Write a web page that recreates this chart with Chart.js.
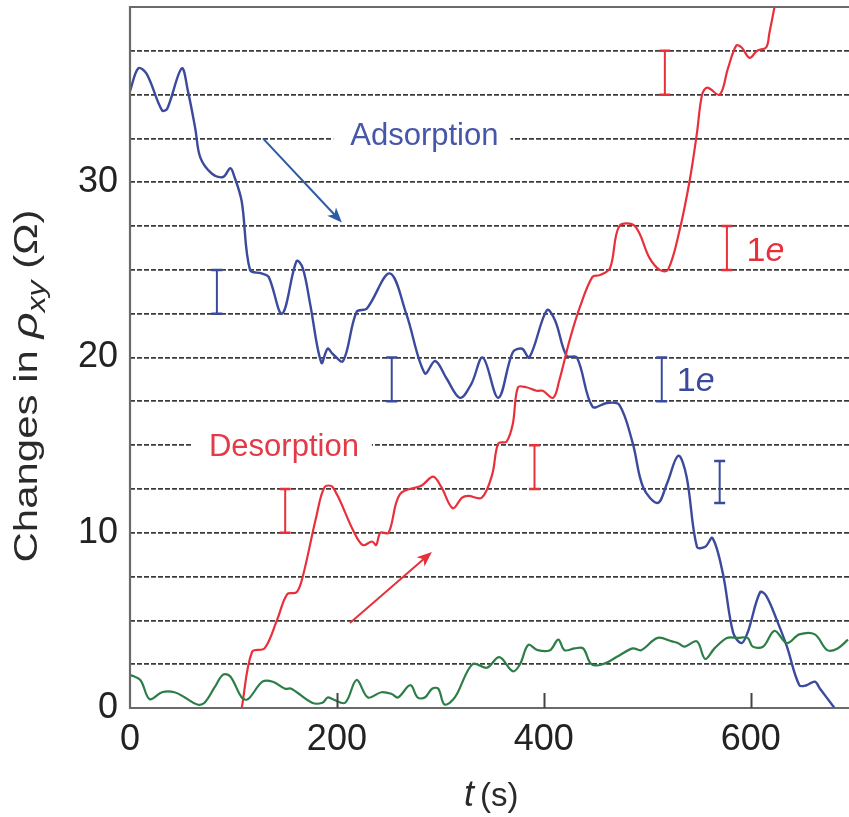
<!DOCTYPE html>
<html>
<head>
<meta charset="utf-8">
<script src="https://cdn.jsdelivr.net/npm/chart.js@4.4.1/dist/chart.umd.min.js"></script>
<style>
  html, body { margin: 0; padding: 0; background: #fff; }
  canvas { display: block; }
</style>
</head>
<body>
<canvas id="chart" width="849" height="817"></canvas>
<script>
// adsorption (blue) trace
const adsT = [0,8,16,31,36,50,56,63,68,79,90,97,101,108,116,127,134,147,161,167,174,185,191,196,206,219,229,251,267,285,295,306,319,330,341,356,370,379,386,403,411,422,432,447,461,473,486,496,510,519,530,538,548,556,563,573,583,591,597,609,615,626,635,647,654,662,667,681];
const adsR = [35.2,36.5,36.2,34.1,34.2,36.5,35.2,33.1,31.4,30.5,30.3,30.8,30.3,28.9,25.0,24.8,24.6,22.5,25.5,25.1,23.1,19.7,20.5,20.2,19.8,22.6,22.8,24.8,22.5,19.1,19.8,18.8,17.7,18.5,20.0,17.7,20.3,20.5,20.0,22.7,22.1,20.1,20.0,17.2,17.4,17.3,15.1,12.6,11.7,12.8,14.4,13.2,9.2,9.2,9.7,7.7,4.3,3.7,4.3,6.6,6.4,4.9,3.5,1.3,1.3,1.5,1.1,0];

// desorption (red) trace
const desT = [108,118,130,142,152,161,167,180,188,196,216,225,234,238,242,250,261,282,293,301,312,321,327,340,350,356,364,370,375,383,393,399,409,415,425,435,447,454,464,473,488,502,512,520,531,541,548,553,558,570,578,586,591,599,606,615,618,623];
const desR = [0,3.2,3.4,5.0,6.5,6.6,7.5,10.9,12.6,12.6,10.1,9.3,9.5,9.3,10.0,10.0,12.2,12.7,13.2,12.6,11.4,12.0,12.1,12.0,13.3,15.1,15.2,16.2,18.3,18.3,18.1,18.1,17.7,18.7,21.0,22.9,24.6,24.7,25.1,27.5,27.5,25.7,25.0,25.0,27.2,30.1,32.8,35.0,35.4,35.0,36.5,37.8,37.7,37.1,37.5,37.7,38.5,40.0];

// baseline (green) trace
const baseT = [0,10,19,31,43,53,65,72,82,90,97,108,114,128,138,150,156,176,186,191,196,208,219,230,243,253,259,271,278,285,292,298,304,314,331,345,357,370,377,385,394,406,414,420,430,438,446,457,473,486,494,510,524,530,536,548,556,565,577,587,597,602,612,623,635,647,662,674,684,694];
const baseR = [1.9,1.6,0.5,0.9,0.9,0.6,0.2,0.3,1.2,1.9,1.8,0.6,0.5,1.5,1.5,1.1,1.1,0.3,0.3,0.6,0.5,0.3,1.6,0.6,0.9,0.8,0.6,1.3,0.6,0.6,1.1,1.1,0.2,0.6,2.5,2.3,2.9,2.1,2.5,3.6,3.3,3.3,3.9,3.3,3.4,3.4,2.5,2.5,3.0,3.4,3.3,4.0,3.8,3.7,3.5,3.8,2.8,3.4,4.0,4.0,4.0,3.5,3.5,4.4,3.7,4.2,4.2,3.3,3.4,3.9];

// one-electron step markers
const blueBarT = [84, 253, 514, 570];
const blueBarLo = [22.5, 17.5, 17.5, 11.7];
const blueBarHi = [25, 20, 20, 14.1];
const redBarT = [150, 391, 517, 577];
const redBarLo = [10, 12.5, 35, 25];
const redBarHi = [12.5, 15, 37.5, 27.5];

// ticks
const xTickValues = [0, 200, 400, 600];
const yTickLabels = [0, 10, 20, 30];
const yGridValues = [0,2.5,5,7.5,10,12.5,15,17.5,20,22.5,25,27.5,30,32.5,35,37.5,40];

const BLUE = '#3b4a9c';
const RED = '#e8303b';
const GREEN = '#2c7e47';
const FONT = '"Liberation Sans", Arial, sans-serif';

const pairs = (t, r) => t.map((v, i) => ({ x: v, y: r[i] }));

// annotation texts (data coordinates)
const boxLabels = [
  { text: 'Adsorption', x: 284.5, y: 32.1, line: 32.5, color: '#4656a8', padL: 17, padR: 12 },
  { text: 'Desorption', x: 148.8, y: 14.4, line: 15, color: '#e23a46', padL: 18, padR: 13 }
];

const decor = {
  id: 'decor',
  beforeDatasetsDraw(chart) {
    const { ctx, scales: { x, y } } = chart;
    ctx.save();
    ctx.font = '31px ' + FONT;
    boxLabels.forEach(l => {
      const w = ctx.measureText(l.text).width;
      const cx = x.getPixelForValue(l.x);
      const cy = y.getPixelForValue(l.line);
      ctx.fillStyle = '#fff';
      ctx.fillRect(cx - w / 2 - l.padL, cy - 4, w + l.padL + l.padR, 8);
    });
    ctx.restore();
  },
  afterDatasetsDraw(chart) {
    const { ctx, chartArea: a, scales: { x, y } } = chart;
    ctx.save();

    // frame: top, left, bottom
    ctx.strokeStyle = '#6a6a6a';
    ctx.lineWidth = 2.2;
    ctx.beginPath();
    ctx.moveTo(a.right, a.top);
    ctx.lineTo(a.left, a.top);
    ctx.lineTo(a.left, a.bottom);
    ctx.lineTo(a.right, a.bottom);
    ctx.stroke();

    // inward x ticks
    ctx.strokeStyle = '#444';
    ctx.lineWidth = 2;
    xTickValues.slice(1).forEach(v => {
      const px = Math.round(x.getPixelForValue(v)) + 0.5;
      ctx.beginPath();
      ctx.moveTo(px, a.bottom);
      ctx.lineTo(px, a.bottom - 15);
      ctx.stroke();
    });

    // 1e bars
    const drawBars = (ts, lo, hi, color) => {
      ctx.strokeStyle = color;
      ts.forEach((t, i) => {
        const px = x.getPixelForValue(t);
        const y0 = y.getPixelForValue(lo[i]);
        const y1 = y.getPixelForValue(hi[i]);
        ctx.lineWidth = 2;
        ctx.beginPath();
        ctx.moveTo(px, y0); ctx.lineTo(px, y1);
        ctx.stroke();
        ctx.lineWidth = 2.5;
        ctx.beginPath();
        ctx.moveTo(px - 5.5, y0); ctx.lineTo(px + 5.5, y0);
        ctx.moveTo(px - 5.5, y1); ctx.lineTo(px + 5.5, y1);
        ctx.stroke();
      });
    };
    drawBars(blueBarT, blueBarLo, blueBarHi, BLUE);
    drawBars(redBarT, redBarLo, redBarHi, RED);

    // arrows
    const arrow = (t0, r0, t1, r1, color) => {
      const x0 = x.getPixelForValue(t0), y0 = y.getPixelForValue(r0);
      const x1 = x.getPixelForValue(t1), y1 = y.getPixelForValue(r1);
      const ang = Math.atan2(y1 - y0, x1 - x0);
      ctx.strokeStyle = color;
      ctx.fillStyle = color;
      ctx.lineWidth = 2;
      ctx.beginPath();
      ctx.moveTo(x0, y0);
      ctx.lineTo(x1 - 10 * Math.cos(ang), y1 - 10 * Math.sin(ang));
      ctx.stroke();
      ctx.beginPath();
      ctx.moveTo(x1, y1);
      ctx.lineTo(x1 - 15 * Math.cos(ang) + 6 * Math.sin(ang), y1 - 15 * Math.sin(ang) - 6 * Math.cos(ang));
      ctx.lineTo(x1 - 11 * Math.cos(ang), y1 - 11 * Math.sin(ang));
      ctx.lineTo(x1 - 15 * Math.cos(ang) - 6 * Math.sin(ang), y1 - 15 * Math.sin(ang) + 6 * Math.cos(ang));
      ctx.closePath();
      ctx.fill();
    };
    arrow(128.5, 32.5, 204.8, 27.7, '#2b5aa8');
    arrow(212.6, 4.85, 291.8, 8.9, '#e6303a');

    // text labels
    ctx.font = '31px ' + FONT;
    ctx.textAlign = 'center';
    ctx.textBaseline = 'alphabetic';
    boxLabels.forEach(l => {
      ctx.fillStyle = l.color;
      ctx.fillText(l.text, x.getPixelForValue(l.x), y.getPixelForValue(l.y));
    });

    // "1e" labels
    const oneE = (t, r, color) => {
      const px = x.getPixelForValue(t), py = y.getPixelForValue(r);
      ctx.fillStyle = color;
      ctx.textAlign = 'left';
      ctx.font = '34px ' + FONT;
      ctx.fillText('1', px, py);
      const w = ctx.measureText('1').width;
      ctx.font = 'italic 34px ' + FONT;
      ctx.fillText('e', px + w, py);
    };
    oneE(528.5, 18.1, BLUE);
    oneE(596, 25.5, RED);

    ctx.restore();
  },
  afterDraw(chart) {
    const { ctx } = chart;
    ctx.save();
    ctx.fillStyle = '#2a2a2a';
    // y-axis title
    const parts = [
      { t: 'Changes in ', f: '33px ' + FONT, dy: 0 },
      { t: '\u03C1', f: 'italic 36px ' + FONT, dy: 0 },
      { t: 'xy', f: 'italic 25px ' + FONT, dy: 8 },
      { t: ' (\u03A9)', f: '33px ' + FONT, dy: 0 }
    ];
    let total = 0;
    parts.forEach(p => { ctx.font = p.f; p.w = ctx.measureText(p.t).width; total += p.w; });
    const target = 353;
    ctx.translate(37, 386);
    ctx.rotate(-Math.PI / 2);
    ctx.scale(target / total, 1);
    let cx = -total / 2;
    ctx.textBaseline = 'alphabetic';
    ctx.textAlign = 'left';
    parts.forEach(p => { ctx.font = p.f; ctx.fillText(p.t, cx, p.dy); cx += p.w; });
    ctx.setTransform(1, 0, 0, 1, 0, 0);
    // x-axis title
    ctx.font = 'italic 36px ' + FONT;
    ctx.fillText('t', 464, 806);
    ctx.font = '33px ' + FONT;
    ctx.fillText('(s)', 480, 806);
    ctx.restore();
  }
};

new Chart(document.getElementById('chart'), {
  type: 'line',
  data: {
    datasets: [
      { label: 'Baseline', data: pairs(baseT, baseR), borderColor: GREEN, borderWidth: 2.2 },
      { label: 'Desorption', data: pairs(desT, desR), borderColor: RED, borderWidth: 2.2 },
      { label: 'Adsorption', data: pairs(adsT, adsR), borderColor: BLUE, borderWidth: 2.4 }
    ]
  },
  options: {
    responsive: false,
    animation: false,
    layout: { padding: { top: 7, right: 0, left: 0, bottom: 0 } },
    elements: { point: { radius: 0 }, line: { tension: 0.35, cubicInterpolationMode: 'default' } },
    plugins: { legend: { display: false }, tooltip: { enabled: false } },
    scales: {
      x: {
        type: 'linear',
        min: 0,
        max: 695,
        afterBuildTicks: s => { s.ticks = xTickValues.map(v => ({ value: v })); },
        afterFit: s => { s.height = 109; s.paddingLeft = 0; s.paddingRight = 0; },
        grid: { display: false, drawTicks: false },
        border: { display: false },
        ticks: { font: { size: 36, family: FONT }, color: '#222', padding: 10, maxRotation: 0, autoSkip: false }
      },
      y: {
        min: 0,
        max: 40,
        afterBuildTicks: s => { s.ticks = yGridValues.map(v => ({ value: v })); },
        afterFit: s => { s.width = 130; s.paddingTop = 0; s.paddingBottom = 0; },
        grid: {
          drawTicks: false,
          lineWidth: 1.7,
          color: c => (c.tick && (c.tick.value === 0 || c.tick.value === 40)) ? 'rgba(0,0,0,0)' : '#3c3c3c'
        },
        border: { display: false, dash: [5, 2] },
        ticks: {
          font: { size: 36, family: FONT },
          color: '#222',
          padding: 12,
          autoSkip: false,
          callback: v => yTickLabels.includes(v) ? String(v) : ''
        }
      }
    }
  },
  plugins: [decor]
});
</script>
</body>
</html>
